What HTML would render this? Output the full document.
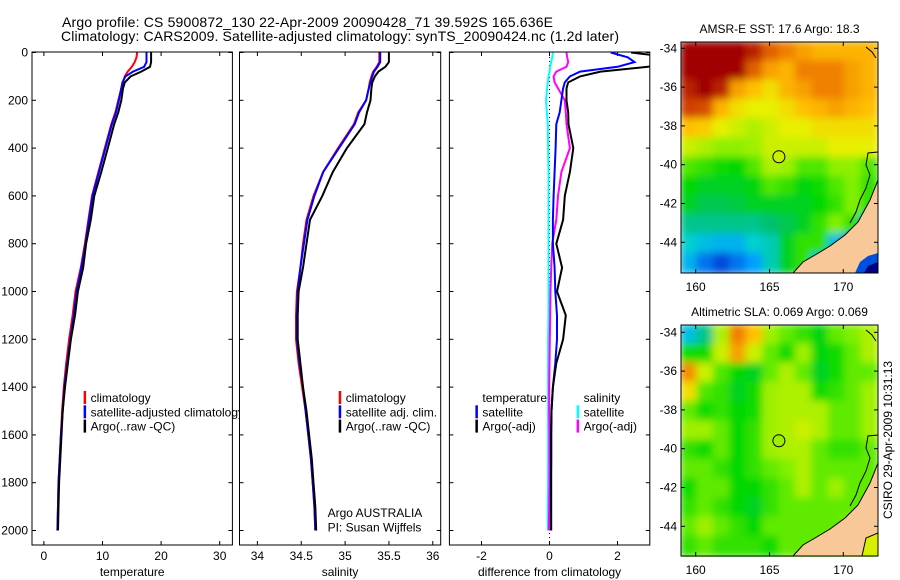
<!DOCTYPE html>
<html><head><meta charset="utf-8"><style>
html,body{margin:0;padding:0;background:#fff;}
svg{display:block;font-family:"Liberation Sans",sans-serif;}
</style></head><body>
<svg id="chart" width="900" height="580" viewBox="0 0 900 580" xmlns="http://www.w3.org/2000/svg">
<defs>
<clipPath id="cp1"><rect x="32" y="52" width="200" height="493"/></clipPath>
<clipPath id="cp2"><rect x="239.5" y="52" width="201" height="493"/></clipPath>
<clipPath id="cp3"><rect x="449.4" y="52" width="200.4" height="493"/></clipPath>
<clipPath id="cmA"><rect x="681" y="42" width="197" height="231"/></clipPath>
<clipPath id="cmB"><rect x="681" y="325" width="197" height="232"/></clipPath>
<filter id="bl" x="-5%" y="-5%" width="110%" height="110%"><feGaussianBlur stdDeviation="4"/></filter>
</defs>
<text x="62" y="27" font-size="14" textLength="491">Argo profile: CS 5900872_130 22-Apr-2009 20090428_71 39.592S 165.636E</text>
<text x="61" y="41" font-size="14" textLength="558">Climatology: CARS2009. Satellite-adjusted climatology: synTS_20090424.nc (1.2d later)</text>
<g id="g"></g>
</svg>
<script>
// ---- profile data ----
const depths = [0,20,40,60,80,100,125,150,200,250,300,400,500,600,700,800,900,1000,1100,1200,1300,1400,1500,1600,1700,1800,1900,2000];
const tempClim = [15.9,15.8,15.5,15.0,14.3,13.8,13.5,13.2,12.7,12.2,11.5,10.4,9.3,8.2,7.6,7.0,6.3,5.4,4.9,4.3,3.8,3.4,3.1,2.9,2.7,2.5,2.4,2.3];
const tempSat = [17.5,17.5,17.5,17.1,15.2,13.9,13.4,13.2,12.8,12.3,11.6,10.5,9.4,8.3,7.7,7.1,6.4,5.6,5.1,4.5,4.0,3.5,3.2,2.9,2.7,2.5,2.4,2.3];
const tempArgo = [18.3,18.3,18.3,18.1,16.6,14.8,13.8,13.5,13.2,12.7,12.0,10.9,9.8,8.6,8.0,7.2,6.7,5.8,5.3,4.6,4.1,3.6,3.2,3.0,2.8,2.6,2.5,2.4];
const salClim = [35.39,35.39,35.39,35.36,35.32,35.30,35.28,35.27,35.24,35.15,35.10,34.92,34.75,34.64,34.56,34.52,34.49,34.45,34.44,34.44,34.47,34.51,34.55,34.58,34.61,34.63,34.65,34.66];
const salSat = [35.40,35.40,35.40,35.37,35.33,35.31,35.29,35.27,35.24,35.16,35.11,34.93,34.75,34.65,34.57,34.53,34.49,34.46,34.45,34.45,34.48,34.52,34.55,34.58,34.61,34.63,34.65,34.66];
const salArgo = [35.50,35.50,35.50,35.46,35.38,35.34,35.31,35.30,35.29,35.25,35.22,35.02,34.86,34.74,34.60,34.56,34.52,34.47,34.46,34.46,34.49,34.52,34.56,34.59,34.62,34.64,34.66,34.67];
const diffTempSat = [1.8,2.3,2.5,2.0,0.9,0.6,0.45,0.4,0.35,0.3,0.2,0.18,0.15,0.12,0.1,0.1,0.15,0.17,0.22,0.22,0.17,0.1,0.06,0.05,0.05,0.04,0.04,0.04];
const diffTempArgo = [2.4,3.6,3.4,2.9,1.5,0.9,0.55,0.5,0.5,0.55,0.56,0.7,0.6,0.45,0.4,0.2,0.37,0.22,0.48,0.4,0.2,0.1,0.06,0.05,0.05,0.05,0.05,0.05];
const diffSalSat = [0.1,0.08,0.05,0.02,0.0,-0.03,-0.05,-0.07,-0.1,-0.08,-0.05,-0.04,-0.03,-0.03,-0.03,-0.03,-0.03,-0.03,-0.03,-0.04,-0.04,-0.04,-0.04,-0.04,-0.04,-0.04,-0.05,-0.05];
const diffSalArgo = [0.5,0.52,0.55,0.5,0.2,0.12,0.15,0.25,0.45,0.48,0.5,0.6,0.35,0.25,0.2,0.08,0.05,0.03,0.02,0.01,0.0,-0.01,-0.01,0.0,0.0,0.0,-0.01,-0.02];
const depthTicks = [0,200,400,600,800,1000,1200,1400,1600,1800,2000];
const tempTicks = [0,10,20,30];
const salTicks = [34,34.5,35,35.5,36];
const salTickLabels = ["34","34.5","35","35.5","36"];
const diffTicks = [-2,0,2];
// ---- map data (colour index 0..1) ----
const sstGrid = [
[1,1,1,1,.95,.85,.8,.75,.72,.72,.72,.72],
[1,1,1,1,.85,.75,.72,.8,.8,.8,.75,.72],
[.95,1,.95,.75,.7,.65,.72,.75,.8,.8,.75,.72],
[.9,.88,.72,.65,.62,.62,.65,.7,.72,.75,.72,.7],
[.7,.68,.62,.6,.58,.6,.62,.62,.65,.65,.65,.65],
[.6,.58,.56,.56,.57,.6,.6,.6,.6,.62,.62,.62],
[.52,.5,.48,.47,.52,.58,.57,.52,.52,.56,.56,.52],
[.47,.45,.45,.45,.46,.52,.5,.46,.48,.52,.55,.5],
[.45,.42,.42,.43,.45,.45,.45,.45,.47,.5,.55,.5],
[.38,.38,.38,.38,.38,.4,.42,.45,.5,.55,.5,.3],
[.33,.3,.28,.28,.33,.35,.45,.5,.5,.3,.2,.15],
[.28,.2,.15,.2,.25,.35,.45,.5,.3,.2,.15,.05]];
const slaGrid = [
[.3,.38,.58,.8,.7,.57,.53,.5,.46,.53,.55,.58],
[.48,.48,.6,.75,.6,.53,.48,.57,.46,.48,.53,.58],
[.78,.6,.52,.47,.45,.53,.58,.53,.45,.48,.53,.53],
[.65,.52,.5,.45,.48,.57,.58,.58,.48,.5,.53,.57],
[.53,.48,.5,.47,.48,.57,.58,.58,.58,.53,.53,.57],
[.57,.57,.53,.47,.5,.57,.58,.6,.58,.53,.53,.57],
[.5,.48,.53,.47,.5,.57,.58,.58,.53,.5,.5,.53],
[.53,.53,.5,.47,.5,.53,.55,.58,.53,.53,.53,.53],
[.48,.53,.53,.47,.47,.5,.53,.58,.53,.57,.53,.53],
[.5,.53,.5,.47,.45,.5,.53,.53,.53,.53,.53,.53],
[.53,.57,.53,.5,.47,.53,.53,.53,.53,.53,.57,.53],
[.5,.53,.5,.5,.5,.48,.53,.53,.53,.53,.57,.53]];
const lonTicks = [160,165,170];
const latTicks = [-34,-36,-38,-40,-42,-44];
const floatLon = 165.636, floatLat = -39.592;

const NS = "http://www.w3.org/2000/svg";
const G = document.getElementById('g');
function mk(tag, attrs, parent){const e=document.createElementNS(NS,tag);for(const k in attrs)e.setAttribute(k,attrs[k]);(parent||G).appendChild(e);return e;}
const yD = d => 52.5 + d*47.8/200;
const xT = v => 43.9 + v*5.86;
const xS = v => 257.4 + (v-34)*87.7;
const xDf = v => 549.5 + v*34;

function line(vals, xf, color, clip, name){
  const p = vals.map((v,i)=>xf(v).toFixed(1)+','+yD(depths[i]).toFixed(1)).join(' ');
  const e = mk('polyline',{points:p,fill:'none',stroke:color,'stroke-width':2,'clip-path':'url(#'+clip+')'});
  
  
}
function frame(x0,x1,xticks,xf,labels,title,name){
  const r = mk('rect',{x:x0,y:52,width:x1-x0,height:493,fill:'#fff',stroke:'#000','stroke-width':1});
  
  
  depthTicks.forEach(d=>{
    mk('line',{x1:x0,x2:x0+4,y1:yD(d),y2:yD(d),stroke:'#000'});
    mk('line',{x1:x1-4,x2:x1,y1:yD(d),y2:yD(d),stroke:'#000'});
  });
  xticks.forEach((t,i)=>{
    const x=xf(t);
    mk('line',{x1:x,x2:x,y1:52,y2:56,stroke:'#000'});
    mk('line',{x1:x,x2:x,y1:541,y2:545,stroke:'#000'});
    const tx=mk('text',{x:x,y:560,'font-size':12,'text-anchor':'middle'});tx.textContent=labels[i];
    
    
  });
  const tt=mk('text',{x:(x0+x1)/2,y:576,'font-size':12,'text-anchor':'middle'});tt.textContent=title;
  
  
}
function legend(items, x, y){
  items.forEach((it,i)=>{
    if(it[0]) mk('rect',{x:x,y:y+i*14.3-11,width:2.5,height:13,fill:it[0]});
    const t=mk('text',{x:x+7,y:y+i*14.3,'font-size':12});t.textContent=it[1];
    
    
  });
}
depthTicks.forEach(d=>{
  const t=mk('text',{x:28,y:yD(d)+4,'font-size':12,'text-anchor':'end'});t.textContent=d;
  
  
});
frame(32,232.4,tempTicks,xT,tempTicks.map(String),'temperature','temperature-panel');
line(tempClim,xT,'#ff0000','cp1','temp-climatology-line');
line(tempSat,xT,'#0000ff','cp1','temp-satellite-line');
line(tempArgo,xT,'#000000','cp1','temp-argo-line');
legend([['#f00','climatology'],['#00f','satellite-adjusted climatology'],['#000','Argo(..raw -QC)']],83.6,402);
frame(239.5,440.7,salTicks,xS,salTickLabels,'salinity','salinity-panel');
line(salClim,xS,'#ff0000','cp2','sal-climatology-line');
line(salSat,xS,'#0000ff','cp2','sal-satellite-line');
line(salArgo,xS,'#000000','cp2','sal-argo-line');
legend([['#f00','climatology'],['#00f','satellite adj. clim.'],['#000','Argo(..raw -QC)']],338.7,402);
legend([[null,'Argo AUSTRALIA'],[null,'PI: Susan Wijffels']],320.6,517);
frame(449.4,649.8,diffTicks,xDf,diffTicks.map(String),'difference from climatology','difference-panel');
mk('line',{x1:xDf(0),x2:xDf(0),y1:53,y2:545,stroke:'#000','stroke-dasharray':'1 3','stroke-width':1});
line(diffSalSat,xDf,'#00ffff','cp3','diff-sal-satellite-line');
line(diffSalArgo,xDf,'#ff00ff','cp3','diff-sal-argo-line');
line(diffTempSat,xDf,'#0000ff','cp3','diff-temp-satellite-line');
line(diffTempArgo,xDf,'#000000','cp3','diff-temp-argo-line');
legend([[null,'temperature'],['#00f','satellite'],['#000','Argo(-adj)']],475.4,402);
legend([[null,'salinity'],['#0ff','satellite'],['#f0f','Argo(-adj)']],576.6,402);

const stops=[[0,[0,0,112]],[.12,[0,48,208]],[.25,[0,160,255]],[.33,[0,208,208]],[.4,[0,192,112]],[.47,[0,216,0]],[.55,[128,240,0]],[.62,[232,240,0]],[.7,[255,192,0]],[.8,[240,128,0]],[.9,[208,64,0]],[1,[160,0,0]]];
function cmap(v){for(let i=1;i<stops.length;i++){if(v<=stops[i][0]){const a=stops[i-1],b=stops[i],f=(v-a[0])/(b[0]-a[0]);return 'rgb('+a[1].map((c,j)=>Math.round(c+(b[1][j]-c)*f)).join(',')+')';}}return 'rgb(160,0,0)';}
function drawMap(grid, top, lat34y, name, clip, title){
  const x0=681,x1=878,bot=top+231;
  const lonX=l=>695.7+(l-160)*14.76;
  const latY=l=>lat34y+(-34-l)*19.4;
  const gg=mk('g',{'clip-path':'url(#'+clip+')'});
  
  
  const inner=mk('g',{filter:'url(#bl)'},gg);
  const cw=(x1-x0)/12, ch=(bot-top)/12;
  grid.forEach((row,r)=>row.forEach((v,c)=>{
    mk('rect',{x:x0+c*cw-1,y:top+r*ch-1,width:cw+2,height:ch+2,fill:cmap(v)},inner);
  }));
  const s=top-42;
  const land=mk('path',{d:`M${x1},${180+s} L870,${200+s} L858,${222+s} L845,${235+s} L830,${246+s} L815,${255+s} L803,${262+s} L793,${273+s} L${x1},${273+s} Z`,fill:'#f8c898',stroke:'#000','stroke-width':1},gg);
  
  
  mk('path',{d:`M${x1},${152+s} L868,${153+s} L866,${165+s} L870,${175+s} L866,${188+s} L860,${200+s} L856,${212+s} L850,${223+s}`,fill:'none',stroke:'#000','stroke-width':1},gg);
  mk('path',{d:`M866,${47+s} L872,${52+s} L876,${58+s}`,fill:'none',stroke:'#000','stroke-width':1},gg);
  if(name==='sst-map'){
    mk('path',{d:`M${x1},${253+s} L868,${256+s} L860,${262+s} L855,${273+s} L${x1},${273+s} Z`,fill:'#0050e0'},gg);
    mk('path',{d:`M${x1},${262+s} L868,${266+s} L864,${273+s} L${x1},${273+s} Z`,fill:'#000080'},gg);
  } else {
    mk('path',{d:`M${x1},${250+s} L866,${255+s} L862,${273+s} L${x1},${273+s} Z`,fill:'#d8f000',stroke:'#000','stroke-width':1},gg);
  }
  const fr=mk('rect',{x:x0,y:top,width:x1-x0,height:bot-top,fill:'none',stroke:'#000'});
  
  
  const fc=grid[Math.floor((latY(floatLat)-top)/ch)][Math.floor((lonX(floatLon)-x0)/cw)];
  const dot=mk('circle',{cx:lonX(floatLon),cy:latY(floatLat),r:6,fill:cmap(fc),stroke:'#000','stroke-width':1});
  
  
  lonTicks.forEach(l=>{
    const x=lonX(l);
    mk('line',{x1:x,x2:x,y1:top,y2:top+4,stroke:'#000'});
    mk('line',{x1:x,x2:x,y1:bot-4,y2:bot,stroke:'#000'});
    const t=mk('text',{x:x,y:bot+18,'font-size':12,'text-anchor':'middle'});t.textContent=l;
    
    
  });
  latTicks.forEach(l=>{
    const y=latY(l);
    mk('line',{x1:x0,x2:x0+4,y1:y,y2:y,stroke:'#000'});
    mk('line',{x1:x1-4,x2:x1,y1:y,y2:y,stroke:'#000'});
    const t=mk('text',{x:x0-4,y:y+4,'font-size':12,'text-anchor':'end'});t.textContent=l;
    
    
  });
  const tt=mk('text',{x:(x0+x1)/2,y:top-9,'font-size':12,'text-anchor':'middle'});tt.textContent=title;
  
  
}
drawMap(sstGrid,42,48.3,'sst-map','cmA','AMSR-E SST: 17.6 Argo: 18.3');
drawMap(slaGrid,325,332.3,'sla-map','cmB','Altimetric SLA: 0.069 Argo: 0.069');
const cs=mk('text',{x:0,y:0,'font-size':12,'text-anchor':'middle',transform:'translate(892,440) rotate(-90)'});
cs.textContent='CSIRO 29-Apr-2009 10:31:13';


</script>
</body></html>
